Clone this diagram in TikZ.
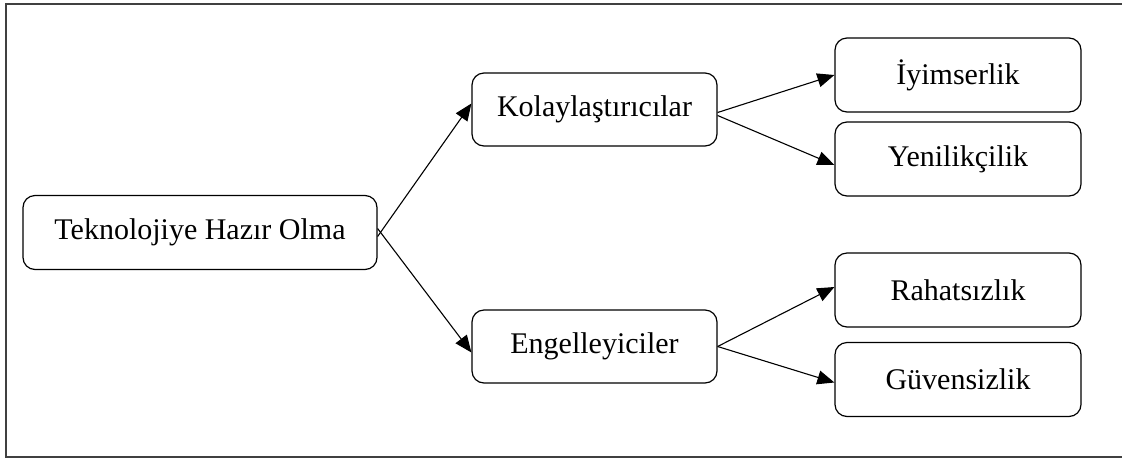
\documentclass[tikz,border=0pt]{standalone}
\usepackage{fontspec}
\setmainfont{Liberation Serif}
\usetikzlibrary{arrows.meta}
\begin{document}
\begin{tikzpicture}[x=1pt,y=-1pt,
  box/.style={draw=black, line width=1.2pt, rounded corners=12pt, inner sep=0pt,
    font=\fontsize{30}{35}\selectfont, text=black},
  conn/.style={line width=1.1pt, -{Triangle[length=17pt,width=14pt]}},
  frameline/.style={draw=black!75, line width=1.6pt}]
\useasboundingbox (0,0) rectangle (1122,459);
\draw[frameline] (1124,4) -- (6,4) -- (6,457) -- (1124,457);
\node[box, minimum width=354pt, minimum height=74pt] (root) at (200,232.5) {Teknolojiye Hazır Olma};
\node[box, minimum width=245pt, minimum height=73pt] (kol) at (594.5,109.5) {Kolaylaştırıcılar};
\node[box, minimum width=245pt, minimum height=73pt] (eng) at (594.5,346.5) {Engelleyiciler};
\node[box, minimum width=246pt, minimum height=74pt] (iyi) at (958,75) {İyimserlik};
\node[box, minimum width=246pt, minimum height=74pt] (yen) at (958,159) {Yenilikçilik};
\node[box, minimum width=246pt, minimum height=74pt] (rah) at (958,290) {Rahatsızlık};
\node[box, minimum width=246pt, minimum height=74pt] (guv) at (958,379.5) {Güvensizlik};
\draw[conn] ([yshift=-4pt]root.east) -- ([yshift=6pt]kol.west);
\draw[conn] ([yshift=4pt]root.east) -- ([yshift=-6pt]eng.west);
\draw[conn] ([yshift=-3pt]kol.east) -- (iyi.west);
\draw[conn] ([yshift=-6pt]kol.east) -- ([yshift=-6pt]yen.west);
\draw[conn] (eng.east) -- ([yshift=3pt]rah.west);
\draw[conn] (eng.east) -- ([yshift=-3pt]guv.west);
\end{tikzpicture}
\end{document}
